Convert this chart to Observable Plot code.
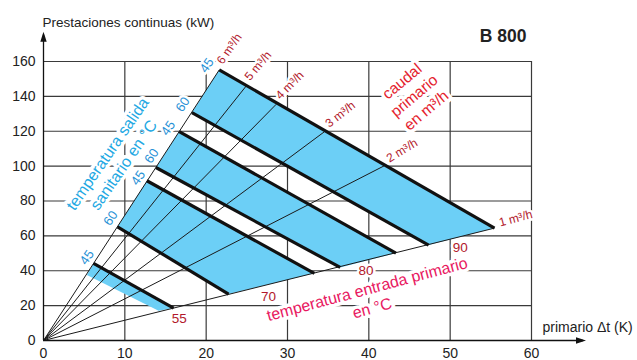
<!DOCTYPE html>
<html>
<head>
<meta charset="utf-8">
<script src="https://cdn.jsdelivr.net/npm/d3@7"></script>
<script src="https://cdn.jsdelivr.net/npm/@observablehq/plot@0.6"></script>
<style>
  body { margin: 0; background: #fff; }
  #chart { width: 637px; height: 360px; }
</style>
</head>
<body>
<div id="chart"></div>
<script>
// Primary flow rays from the origin (m³/h), each ending on the 90 °C / 45 °C line
const flowRates = [1, 2, 3, 4, 5, 6];
const flowEndDt = [55.45, 41.9, 34.56, 28.62, 24.93, 21.61];
const flowEndKw = [64.45, 100.2, 119.8, 135.5, 146.0, 155.2];
const flowLabelAngle = [-15, -31, -38, -45, -50, -55];

// Operating lines: primary inlet temperature / sanitary outlet temperature
const lineInlet = [90, 90, 80, 80, 70, 70, 55];
const lineOutlet = [45, 60, 45, 60, 45, 60, 45];
const lineStartDt = [21.61, 18.25, 16.69, 13.82, 12.71, 9.1, 6.15];
const lineStartKw = [155.2, 130.7, 119.8, 99.2, 91.6, 65.2, 44.2];
const lineEndDt = [55.45, 47.35, 43.33, 36.48, 33.3, 22.75, 16.0];
const lineEndKw = [64.45, 54.7, 50.1, 41.9, 38.5, 26.6, 18.6];
const outletLabelDt = [20.09, 17.12, 15.33, 13.3, 11.64, 8.26, 5.34];
const outletLabelKw = [157.8, 135.4, 121.7, 105.9, 93.3, 70.1, 47.7];

// Lower edge of the 55 °C band
const band55LowerDt = [5.33, 14.15];
const band55LowerKw = [37.5, 17.0];
const bandInlets = [90, 80, 70, 55];

// Primary inlet temperature labels
const inletTemps = [55, 70, 80, 90];
const inletLabelDt = [16.69, 27.67, 39.64, 51.24];
const inletLabelKw = [12.7, 25.2, 40.0, 53.0];

// Block labels
const noteText = ["temperatura salida\nsanitario en °C", "caudal\nprimario\nen m³/h", "temperatura entrada primario\nen °C"];
const noteDt = [8.77, 45.5, 40.07];
const noteKw = [104.1, 140.7, 24.5];
const noteAngle = [-55.5, -40, -15];
const noteColor = ["#22a8e3", "#e4222e", "#e8185f"];
const noteSize = [16, 15.5, 16];

const xTicks = [0, 10, 20, 30, 40, 50, 60];
const yTicks = [0, 20, 40, 60, 80, 100, 120, 140, 160];
const xAxisTip = 66.7;
const yAxisTip = 177;

const BLUE = "#6ccff6";
const FONT = "'Liberation Sans', Arial, Helvetica, sans-serif";

const flows = flowRates.map((q, i) => ({q, x: flowEndDt[i], y: flowEndKw[i], angle: flowLabelAngle[i]}));
const lines = lineInlet.map((t, i) => ({
  inlet: t, outlet: lineOutlet[i],
  x1: lineStartDt[i], y1: lineStartKw[i], x2: lineEndDt[i], y2: lineEndKw[i],
  lx: outletLabelDt[i], ly: outletLabelKw[i]
}));

// Shaded band for each inlet temperature, between its 45 °C and 60 °C lines
const bandPoints = [];
for (const t of bandInlets) {
  const up = lines.find(d => d.inlet === t && d.outlet === 45);
  const lo = lines.find(d => d.inlet === t && d.outlet === 60) ??
    {x1: band55LowerDt[0], y1: band55LowerKw[0], x2: band55LowerDt[1], y2: band55LowerKw[1]};
  bandPoints.push(
    {band: t, x: up.x1, y: up.y1}, {band: t, x: up.x2, y: up.y2},
    {band: t, x: lo.x2, y: lo.y2}, {band: t, x: lo.x1, y: lo.y1}
  );
}

const inlets = inletTemps.map((t, i) => ({t, x: inletLabelDt[i], y: inletLabelKw[i]}));
const notes = noteText.map((s, i) => ({s, x: noteDt[i], y: noteKw[i], angle: noteAngle[i], color: noteColor[i], size: noteSize[i]}));

const halo = {stroke: "white", strokeWidth: 6, paintOrder: "stroke"};

const chart = Plot.plot({
  width: 637,
  height: 360,
  marginLeft: 43,
  marginRight: 106,
  marginTop: 61,
  marginBottom: 20,
  style: {fontFamily: FONT, fontSize: "14px", color: "#222", background: "#fff", overflow: "visible"},
  x: {domain: [0, 60]},
  y: {domain: [0, 160]},
  marks: [
    Plot.gridX(xTicks.slice(1), {stroke: "#3a3a3a", strokeOpacity: 1, strokeWidth: 1.2}),
    Plot.gridY(yTicks.slice(1), {stroke: "#3a3a3a", strokeOpacity: 1, strokeWidth: 1.2}),
    Plot.line(bandPoints, {x: "x", y: "y", z: "band", fill: BLUE, stroke: "none"}),
    Plot.link(flows, {x1: 0, y1: 0, x2: "x", y2: "y", stroke: "#1a1a1a", strokeWidth: 1}),
    Plot.link(lines, {x1: "x1", y1: "y1", x2: "x2", y2: "y2", stroke: "#111", strokeWidth: 3.2, strokeLinecap: "butt"}),
    Plot.ruleX([0], {y1: 0, y2: yAxisTip - 2, stroke: "#111", strokeWidth: 1.3}),
    Plot.ruleY([0], {x1: 0, x2: xAxisTip - 0.3, stroke: "#111", strokeWidth: 1.3}),
    Plot.vector([0], {x: 0, y: yAxisTip, length: 10, r: 3.2, rotate: 0, shape: "spike", anchor: "end", fill: "#111", stroke: "none"}),
    Plot.vector([0], {x: xAxisTip, y: 0, length: 10, r: 3.2, rotate: 90, shape: "spike", anchor: "end", fill: "#111", stroke: "none"}),
    Plot.axisX(xTicks, {tickSize: 0, tickPadding: 8, fontSize: 14, label: null, fill: "#222"}),
    Plot.axisY(yTicks, {tickSize: 0, tickPadding: 8, fontSize: 14, label: null, fill: "#222"}),
    // sanitary outlet temperature at the start of each operating line
    Plot.text(lines, {x: "lx", y: "ly", text: d => String(d.outlet), rotate: -56,
      fill: "#2791d6", fontSize: 13, ...halo, strokeWidth: 5}),
    // flow rate labels beyond each ray
    Plot.text(flows, {x: "x", y: "y", text: d => `\u2002${d.q} m³/h`, rotate: d => d.angle,
      textAnchor: "start", lineAnchor: "bottom", fill: "#b2182b", fontSize: 12, ...halo, strokeWidth: 5}),
    // primary inlet temperatures
    Plot.text(inlets, {x: "x", y: "y", text: d => String(d.t), fill: "#b2182b", fontSize: 13.5, ...halo, strokeWidth: 5}),
    // block labels
    ...notes.map(n => Plot.text([n], {x: "x", y: "y", text: "s", rotate: n.angle, fill: n.color, fontSize: n.size,
      lineHeight: 1.22, textAnchor: "middle", lineAnchor: "middle", ...halo, strokeWidth: 7})),
    Plot.text(["Prestaciones continuas (kW)"], {frameAnchor: "top-left", textAnchor: "start", lineAnchor: "bottom",
      dx: -1, dy: -34.5, fontSize: 13.5, fill: "#222"}),
    Plot.text(["B 800"], {frameAnchor: "top-right", textAnchor: "end", lineAnchor: "bottom",
      dx: -5, dy: -20, fontSize: 17.5, fontWeight: "bold", fill: "#222"}),
    Plot.text(["primario Δt (K)"], {frameAnchor: "bottom-right", textAnchor: "start", lineAnchor: "bottom",
      dx: 11, dy: -9, fontSize: 14, fill: "#222"})
  ]
});

document.getElementById("chart").appendChild(chart);
</script>
</body>
</html>
